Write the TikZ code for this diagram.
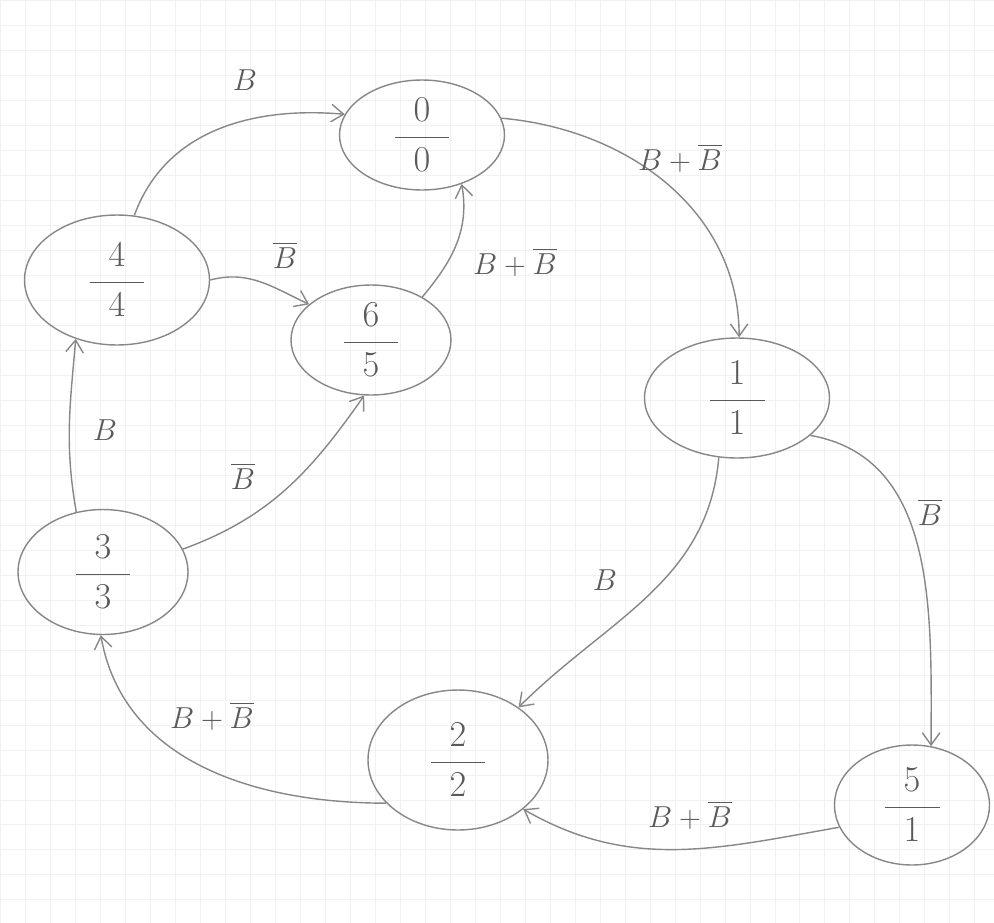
\documentclass[tikz,border=0pt]{standalone}
\usepackage{amsmath}
\usepackage{xcolor}
\usetikzlibrary{shapes.geometric,arrows.meta}
\definecolor{pencil}{RGB}{135,135,135}
\definecolor{pencilink}{RGB}{90,90,90}
\definecolor{paperline}{RGB}{241,241,241}
\newcommand{\stfrac}[2]{$\dfrac{\makebox[1.1cm]{$#1$}}{#2}$}

\begin{document}
\begin{tikzpicture}[x=0.02cm, y=-0.02cm,
  state/.style={ellipse, draw=pencil, thick, text=pencilink, inner sep=0pt,
    font=\fontsize{22}{26}\selectfont},
  trans/.style={draw=pencil, thick, -{Straight Barb[length=7pt,width=10pt]}},
  lbl/.style={text=pencilink, font=\LARGE}]
  \useasboundingbox (0,0) rectangle (994,923);
  % paper
  \draw[paperline, step=0.5cm] (0,0) grid (994,923);
  % states
  \node[state, minimum width=3.3cm, minimum height=2.2cm] (s0) at (422,135) {\stfrac{0}{0}};
  \node[state, minimum width=3.7cm, minimum height=2.6cm] (s4) at (117,280) {\stfrac{4}{4}};
  \node[state, minimum width=3.2cm, minimum height=2.2cm] (s6) at (371,340) {\stfrac{6}{5}};
  \node[state, minimum width=3.7cm, minimum height=2.4cm] (s1) at (737,398) {\stfrac{1}{1}};
  \node[state, minimum width=3.4cm, minimum height=2.5cm] (s3) at (103,572) {\stfrac{3}{3}};
  \node[state, minimum width=3.6cm, minimum height=2.8cm] (s2) at (458,760) {\stfrac{2}{2}};
  \node[state, minimum width=3.1cm, minimum height=2.4cm] (s5) at (912,805) {\stfrac{5}{1}};
  % transitions
  \draw[trans] (s4.75) to[out=70, in=175] (s0.165);
  \draw[trans] (s0.12) to[out=-5, in=90] (s1.88);
  \draw[trans] (s4.0) to[out=15, in=155] (s6.150);
  \draw[trans] (s6.40) to[out=50, in=-80] (s0.-51);
  \draw[trans] (s3.114) to[out=100, in=-95] (s4.-125);
  \draw[trans] (s3.16) to[out=20, in=-125] (s6.-97);
  \draw[trans] (s1.-107) to[out=-95, in=45] (s2.41);
  \draw[trans] (s1.-27) to[out=-10, in=90] (s5.72);
  \draw[trans] (s5.197) to[out=190, in=-30] (s2.-37);
  \draw[trans] (s2.211) to[out=180, in=-80] (s3.-92);
  % labels
  \node[lbl] (t40) at (245,80) {$B$};
  \node[lbl] (t01) at (680,158) {$B+\overline{B}$};
  \node[lbl] (t46) at (285,255) {$\overline{B}$};
  \node[lbl] (t60) at (515,262) {$B+\overline{B}$};
  \node[lbl] (t34) at (105,430) {$B$};
  \node[lbl] (t36) at (243,476) {$\overline{B}$};
  \node[lbl] (t12) at (605,580) {$B$};
  \node[lbl] (t15) at (930,512) {$\overline{B}$};
  \node[lbl] (t52) at (690,815) {$B+\overline{B}$};
  \node[lbl] (t23) at (212,716) {$B+\overline{B}$};
\end{tikzpicture}
\end{document}
